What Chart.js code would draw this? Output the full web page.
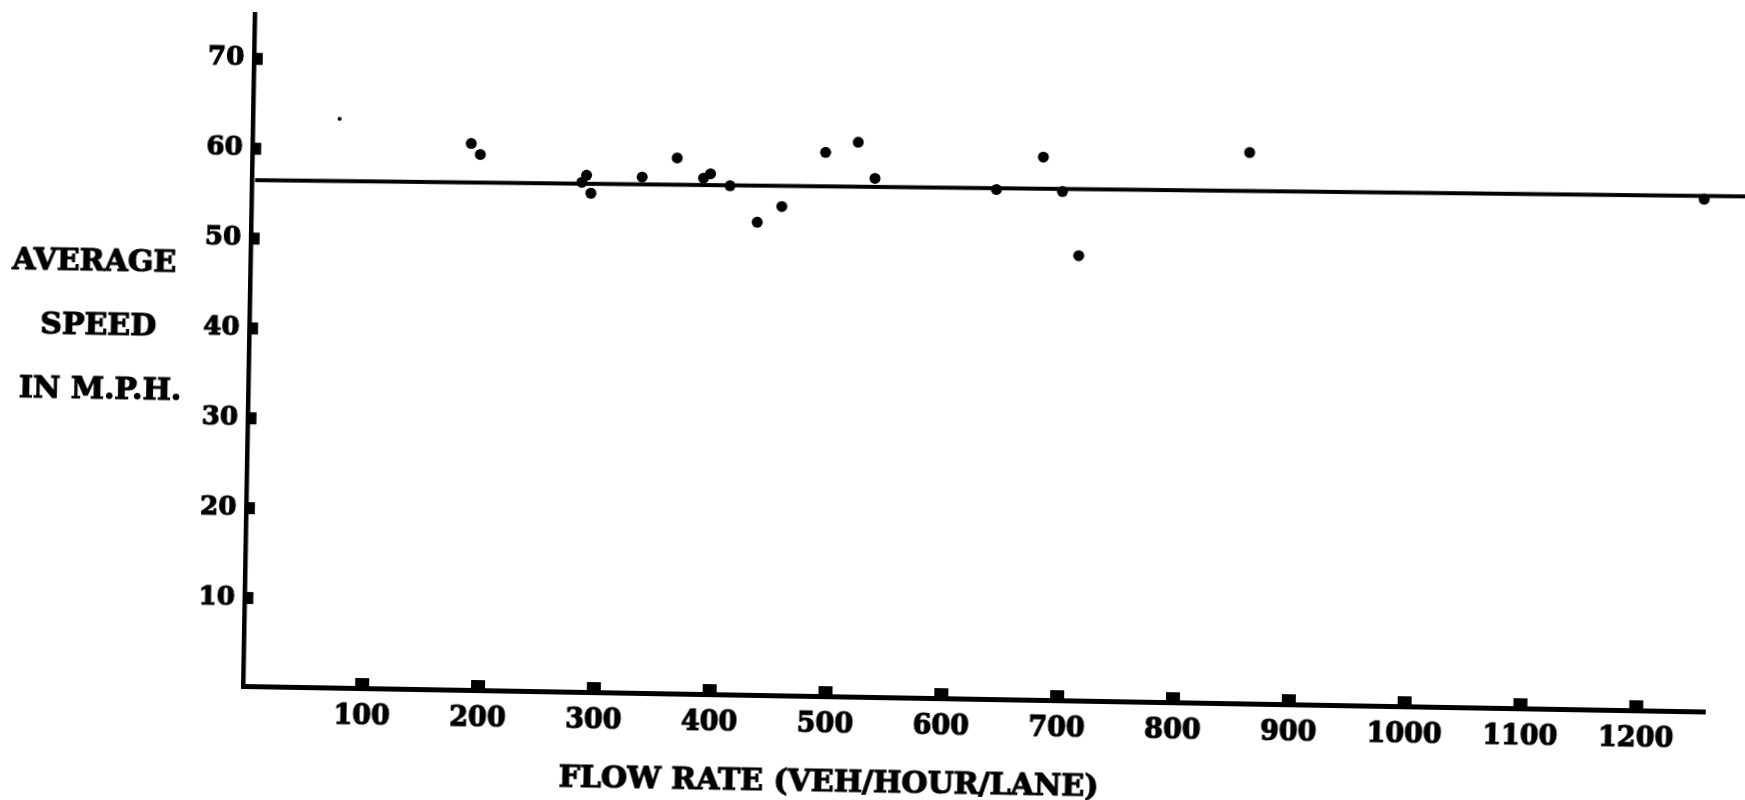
<!DOCTYPE html>
<html>
<head>
<meta charset="utf-8">
<title>Average speed vs flow rate</title>
<script src="https://cdn.jsdelivr.net/npm/chart.js@4.4.1/dist/chart.umd.min.js"></script>
<style>
  html, body { margin: 0; padding: 0; background: #fff; overflow: hidden; }
  #wrap { position: relative; width: 1745px; height: 800px; }
  /* the printed sheet sits slightly skewed; turn the whole plot about its origin */
  #c { position: absolute; left: 0; top: 0; transform-origin: 243.3px 686px; transform: rotate(1deg); }
</style>
</head>
<body>
<div id="wrap"><canvas id="c" width="1745" height="800"></canvas></div>
<script>
// Observed stations: flow rate (veh/hour/lane) and average speed (mph)
const flowRate = [186, 194, 286, 282, 290, 334, 364, 387, 393, 410, 434, 455, 492, 520, 535, 640, 680, 697, 712, 858, 1251];
const avgSpeed = [61.0, 59.8, 57.7, 56.9, 55.7, 57.6, 59.8, 57.6, 58.1, 56.8, 52.8, 54.6, 60.7, 61.9, 57.9, 56.9, 60.6, 56.8, 49.7, 61.5, 57.2];

// Small isolated mark near the top left
const looseFlow = [72];
const looseSpeed = [63.5];

// Fitted line end points
const fitFlow = [0, 1290];
const fitSpeed = [56.5, 57.6];

// Axis ticks and titles
const xTickValues = [100, 200, 300, 400, 500, 600, 700, 800, 900, 1000, 1100, 1200];
const yTickValues = [10, 20, 30, 40, 50, 60, 70];
const xTitle = 'FLOW RATE (VEH/HOUR/LANE)';
const yTitleLines = ['AVERAGE', 'SPEED', 'IN M.P.H.'];

const FONT = 'DejaVu Serif';

const toPoints = (xs, ys) => xs.map((x, i) => ({ x: x, y: ys[i] }));

// Draws the block-shaped tick marks inside the axes and the axis titles
const axisDecor = {
  id: 'axisDecor',
  afterDraw(chart) {
    const ctx = chart.ctx;
    const area = chart.chartArea;
    const xs = chart.scales.x;
    const ys = chart.scales.y;
    ctx.save();
    ctx.fillStyle = '#000';
    ctx.strokeStyle = '#000';

    yTickValues.forEach(v => {
      const py = ys.getPixelForValue(v);
      ctx.fillRect(area.left + 1.5, py - 6, 7, 12);
    });
    xTickValues.forEach(v => {
      const px = xs.getPixelForValue(v);
      ctx.fillRect(px - 7, area.bottom - 10, 14, 8.5);
    });

    ctx.font = 'bold 30px "' + FONT + '"';
    ctx.textAlign = 'center';
    ctx.textBaseline = 'alphabetic';
    ctx.lineWidth = 1.2;
    const yCenters = [[87, 261.7], [92, 325.6], [95, 389.6]];
    yTitleLines.forEach((t, i) => {
      ctx.fillText(t, yCenters[i][0], yCenters[i][1] + 11);
      ctx.strokeText(t, yCenters[i][0], yCenters[i][1] + 11);
    });
    const tx = xs.getPixelForValue(504);
    const ty = area.bottom + 95;
    ctx.fillText(xTitle, tx, ty);
    ctx.strokeText(xTitle, tx, ty);
    ctx.restore();
  }
};

const noEdgePadding = s => {
  s.paddingTop = 0;
  s.paddingBottom = 0;
  s.paddingLeft = 0;
  s.paddingRight = 0;
};

new Chart(document.getElementById('c'), {
  type: 'scatter',
  data: {
    datasets: [
      {
        label: 'Fitted line',
        data: toPoints(fitFlow, fitSpeed),
        showLine: true,
        borderColor: '#000',
        borderWidth: 4,
        pointRadius: 0,
        clip: false
      },
      {
        label: 'Stations',
        data: toPoints(flowRate, avgSpeed),
        pointRadius: 5.5,
        pointBackgroundColor: '#000',
        pointBorderWidth: 0
      },
      {
        label: 'Mark',
        data: toPoints(looseFlow, looseSpeed),
        pointRadius: 2,
        pointBackgroundColor: '#000',
        pointBorderWidth: 0
      }
    ]
  },
  options: {
    responsive: false,
    animation: false,
    events: [],
    layout: { padding: { top: 13.8, right: 39.1, bottom: 0, left: 0 } },
    plugins: { legend: { display: false }, tooltip: { enabled: false } },
    scales: {
      x: {
        type: 'linear',
        min: -2.6,
        max: 1260,
        afterBuildTicks: s => { s.ticks = xTickValues.map(v => ({ value: v })); },
        afterFit: s => { s.height = 114; noEdgePadding(s); },
        grid: { display: false, drawTicks: false },
        border: { display: true, color: '#000', width: 5 },
        ticks: {
          color: '#000',
          padding: 13,
          maxRotation: 0,
          autoSkip: false,
          textStrokeColor: '#000',
          textStrokeWidth: 1.2,
          font: { family: FONT, weight: 'bold', size: 27 },
          callback: v => String(v)
        }
      },
      y: {
        type: 'linear',
        min: 0.2,
        max: 75,
        afterBuildTicks: s => { s.ticks = yTickValues.map(v => ({ value: v })); },
        afterFit: s => { s.width = 243.3; noEdgePadding(s); },
        grid: { display: false, drawTicks: false },
        border: { display: true, color: '#000', width: 4.5 },
        ticks: {
          color: '#000',
          padding: 10,
          autoSkip: false,
          textStrokeColor: '#000',
          textStrokeWidth: 1.2,
          font: { family: FONT, weight: 'bold', size: 26 },
          callback: v => String(v)
        }
      }
    }
  },
  plugins: [axisDecor]
});
</script>
</body>
</html>
